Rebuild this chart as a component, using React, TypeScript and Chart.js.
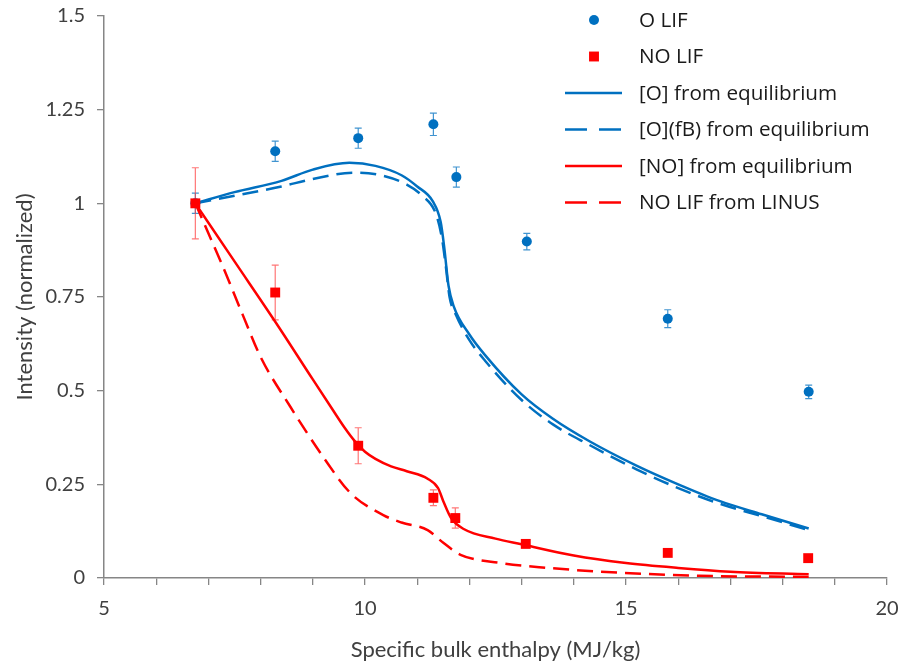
import React, { useEffect, useRef } from 'react';
import { Chart, registerables } from 'chart.js';

Chart.register(...registerables);

// ---------- data ----------
const oLifX = [6.75, 8.28, 9.87, 11.31, 11.75, 13.1, 15.8, 18.5];
const oLifY = [1.0, 1.139, 1.174, 1.211, 1.07, 0.898, 0.692, 0.497];
const oLifErr = [0.027, 0.027, 0.027, 0.03, 0.027, 0.022, 0.024, 0.018];

const noLifX = [6.75, 8.28, 9.87, 11.31, 11.73, 13.08, 15.8, 18.49];
const noLifY = [1.0, 0.762, 0.353, 0.214, 0.16, 0.091, 0.067, 0.053];
const noLifErr = [0.095, 0.073, 0.048, 0.021, 0.027, 0, 0, 0];

const oEqX = [6.75, 7.5, 8.4, 9.0, 9.7, 10.2, 10.7, 11.0, 11.3, 11.45, 11.52, 11.6, 11.7, 12.0, 12.3, 13.0, 13.6, 14.3, 15.2, 16.0, 16.8, 17.6, 18.5];
const oEqY = [1.0, 1.03, 1.06, 1.09, 1.108, 1.1, 1.075, 1.045, 1.005, 0.95, 0.88, 0.78, 0.725, 0.65, 0.595, 0.49, 0.425, 0.365, 0.3, 0.25, 0.205, 0.17, 0.132];

const oFbX = [6.75, 7.5, 8.4, 9.0, 9.8, 10.3, 10.8, 11.1, 11.35, 11.47, 11.55, 11.62, 11.75, 12.0, 12.3, 13.0, 13.6, 14.3, 15.2, 16.0, 16.8, 17.6, 18.5];
const oFbY = [1.0, 1.02, 1.045, 1.065, 1.082, 1.075, 1.05, 1.02, 0.975, 0.91, 0.83, 0.75, 0.7, 0.635, 0.58, 0.475, 0.41, 0.355, 0.29, 0.24, 0.198, 0.165, 0.128];

const noEqX = [6.75, 7.5, 8.3, 9.0, 9.4, 9.6, 9.8, 10.0, 10.2, 10.5, 10.8, 11.2, 11.4, 11.5, 11.65, 11.9, 12.5, 13.0, 14.0, 15.0, 16.0, 17.0, 18.5];
const noEqY = [1.0, 0.845, 0.68, 0.53, 0.445, 0.403, 0.366, 0.337, 0.318, 0.298, 0.285, 0.265, 0.24, 0.205, 0.16, 0.13, 0.105, 0.09, 0.06, 0.04, 0.027, 0.017, 0.01];

const linusX = [6.75, 7.0, 7.26, 7.65, 8.0, 8.57, 9.2, 9.72, 10.35, 10.7, 11.2, 11.5, 11.83, 12.6, 13.5, 14.5, 16.4, 18.5];
const linusY = [1.0, 0.92, 0.837, 0.705, 0.59, 0.457, 0.323, 0.227, 0.168, 0.148, 0.128, 0.094, 0.062, 0.04, 0.027, 0.017, 0.006, 0.003];

const seriesLabels = [
  'O LIF',
  'NO LIF',
  '[O] from equilibrium',
  '[O](fB) from equilibrium',
  '[NO] from equilibrium',
  'NO LIF from LINUS',
];

const xTickValues = [5, 6, 7, 8, 9, 10, 11, 12, 13, 14, 15, 16, 17, 18, 19, 20];
const xTickLabels = ['5', '', '', '', '', '10', '', '', '', '', '15', '', '', '', '', '20'];
const yTickValues = [0, 0.25, 0.5, 0.75, 1, 1.25, 1.5];
const yTickLabels = ['0', '0.25', '0.5', '0.75', '1', '1.25', '1.5'];

const xTitle = 'Specific bulk enthalpy (MJ/kg)';
const yTitle = 'Intensity (normalized)';

// ---------- styles ----------
const BLUE = '#0070C0';
const RED = '#FF0000';
const AXIS = '#868686';
const TEXT = '#404040';

const zip = (xs: number[], ys: number[]) => xs.map((x, i) => ({ x, y: ys[i] }));

const errorBarPlugin = {
  id: 'errorBars',
  beforeDatasetsDraw(chart: any) {
    const { ctx, scales } = chart;
    const xs = scales.x;
    const ys = scales.y;
    chart.data.datasets.forEach((ds: any) => {
      if (!ds.errors) return;
      ctx.save();
      ctx.strokeStyle = ds.errorColor;
      ctx.lineWidth = 1.2;
      ds.data.forEach((p: any, i: number) => {
        const e = ds.errors[i];
        if (!e) return;
        const px = xs.getPixelForValue(p.x);
        const top = ys.getPixelForValue(p.y + e);
        const bot = ys.getPixelForValue(p.y - e);
        ctx.beginPath();
        ctx.moveTo(px, top);
        ctx.lineTo(px, bot);
        ctx.moveTo(px - 3.5, top);
        ctx.lineTo(px + 3.5, top);
        ctx.moveTo(px - 3.5, bot);
        ctx.lineTo(px + 3.5, bot);
        ctx.stroke();
      });
      ctx.restore();
    });
  },
};

const legendPlugin = {
  id: 'customLegend',
  afterDraw(chart: any) {
    const { ctx } = chart;
    const rowY0 = 20;
    const rowH = 36.5;
    const lineX0 = 565;
    const lineX1 = 622;
    const textX = 639;
    ctx.save();
    ctx.font = '20.7px "Open Sans"';
    ctx.textBaseline = 'middle';
    ctx.textAlign = 'left';
    chart.data.datasets.forEach((ds: any, i: number) => {
      const y = rowY0 + i * rowH;
      const cx = 594;
      if (ds.showLine === false) {
        ctx.fillStyle = ds.backgroundColor;
        if (ds.pointStyle === 'rect') {
          const s = ds.pointRadius * Math.SQRT1_2;
          ctx.fillRect(cx - s, y - s, 2 * s, 2 * s);
        } else {
          ctx.beginPath();
          ctx.arc(cx, y, ds.pointRadius, 0, Math.PI * 2);
          ctx.fill();
        }
      } else {
        ctx.strokeStyle = ds.borderColor;
        ctx.lineWidth = ds.borderWidth;
        ctx.setLineDash(ds.borderDash && ds.borderDash.length ? [22, 12] : []);
        ctx.beginPath();
        ctx.moveTo(lineX0, y);
        ctx.lineTo(lineX1, y);
        ctx.stroke();
        ctx.setLineDash([]);
      }
      ctx.fillStyle = '#1a1a1a';
      ctx.fillText(ds.label, textX, y + 1);
    });
    ctx.restore();
  },
};

export default function App() {
  const canvasRef = useRef<HTMLCanvasElement | null>(null);

  useEffect(() => {
    if (!canvasRef.current) return;
    Chart.defaults.font.family = 'Lato';
    const lineBase = {
      type: 'scatter' as const,
      showLine: true,
      pointRadius: 0,
      pointHoverRadius: 0,
      borderWidth: 2.5,
      cubicInterpolationMode: 'monotone' as const,
      fill: false,
    };
    const chart = new Chart(canvasRef.current, {
      type: 'scatter',
      data: {
        datasets: [
          {
            label: seriesLabels[0],
            data: zip(oLifX, oLifY),
            showLine: false,
            pointStyle: 'circle',
            pointRadius: 5,
            backgroundColor: BLUE,
            borderColor: BLUE,
            borderWidth: 0,
            order: 1,
            errors: oLifErr,
            errorColor: 'rgba(0,112,192,0.75)',
          } as any,
          {
            label: seriesLabels[1],
            data: zip(noLifX, noLifY),
            showLine: false,
            pointStyle: 'rect',
            pointRadius: 7,
            backgroundColor: RED,
            borderColor: RED,
            borderWidth: 0,
            order: 0,
            errors: noLifErr,
            errorColor: 'rgba(255,60,60,0.7)',
          } as any,
          { ...lineBase, label: seriesLabels[2], data: zip(oEqX, oEqY), borderColor: BLUE, backgroundColor: BLUE, borderDash: [], order: 2 },
          { ...lineBase, label: seriesLabels[3], data: zip(oFbX, oFbY), borderColor: BLUE, backgroundColor: BLUE, borderDash: [16, 8], order: 3 },
          { ...lineBase, label: seriesLabels[4], data: zip(noEqX, noEqY), borderColor: RED, backgroundColor: RED, borderDash: [], order: 4 },
          { ...lineBase, label: seriesLabels[5], data: zip(linusX, linusY), borderColor: RED, backgroundColor: RED, borderDash: [16, 8], order: 5 },
        ],
      },
      options: {
        animation: false,
        responsive: true,
        maintainAspectRatio: false,
        layout: { padding: { top: 16, right: 19, left: 0, bottom: 0 } },
        plugins: {
          legend: { display: false },
          tooltip: { enabled: false },
        },
        scales: {
          x: {
            type: 'linear',
            min: 5,
            max: 20,
            afterFit: (s: any) => { s.height = 85; s.paddingLeft = 0; s.paddingRight = 0; },
            afterBuildTicks: (s: any) => { s.ticks = xTickValues.map((v) => ({ value: v })); },
            ticks: {
              autoSkip: false,
              maxRotation: 0,
              padding: 12,
              color: TEXT,
              font: { size: 20, family: 'Lato' },
              callback: (v: any) => { const i = xTickValues.indexOf(Number(v)); return i >= 0 ? xTickLabels[i] : ''; },
            },
            grid: { drawOnChartArea: false, drawTicks: true, tickLength: 7, color: AXIS, lineWidth: 1.3 },
            border: { display: true, color: AXIS, width: 1.5 },
            title: { display: true, text: xTitle, color: TEXT, font: { size: 22, family: 'Lato' }, padding: { top: 0, bottom: 0 } },
          },
          y: {
            type: 'linear',
            min: 0,
            max: 1.5,
            afterFit: (s: any) => { s.width = 104; s.paddingTop = 0; s.paddingBottom = 0; },
            afterBuildTicks: (s: any) => { s.ticks = yTickValues.map((v) => ({ value: v })); },
            ticks: {
              padding: 12,
              color: TEXT,
              font: { size: 20, family: 'Lato' },
              callback: (v: any) => { const i = yTickValues.indexOf(Number(v)); return i >= 0 ? yTickLabels[i] : ''; },
            },
            grid: { drawOnChartArea: false, drawTicks: true, tickLength: 7, color: AXIS, lineWidth: 1.3 },
            border: { display: true, color: AXIS, width: 1.5 },
            title: { display: true, text: yTitle, color: TEXT, font: { size: 22, family: 'Lato' }, padding: { top: 12, bottom: 0 } },
          },
        },
      } as any,
      plugins: [errorBarPlugin, legendPlugin],
    });
    return () => chart.destroy();
  }, []);

  return (
    <div style={{ position: 'fixed', left: 0, top: 0, width: 906, height: 663, background: '#fff' }}>
      <canvas ref={canvasRef} />
    </div>
  );
}
